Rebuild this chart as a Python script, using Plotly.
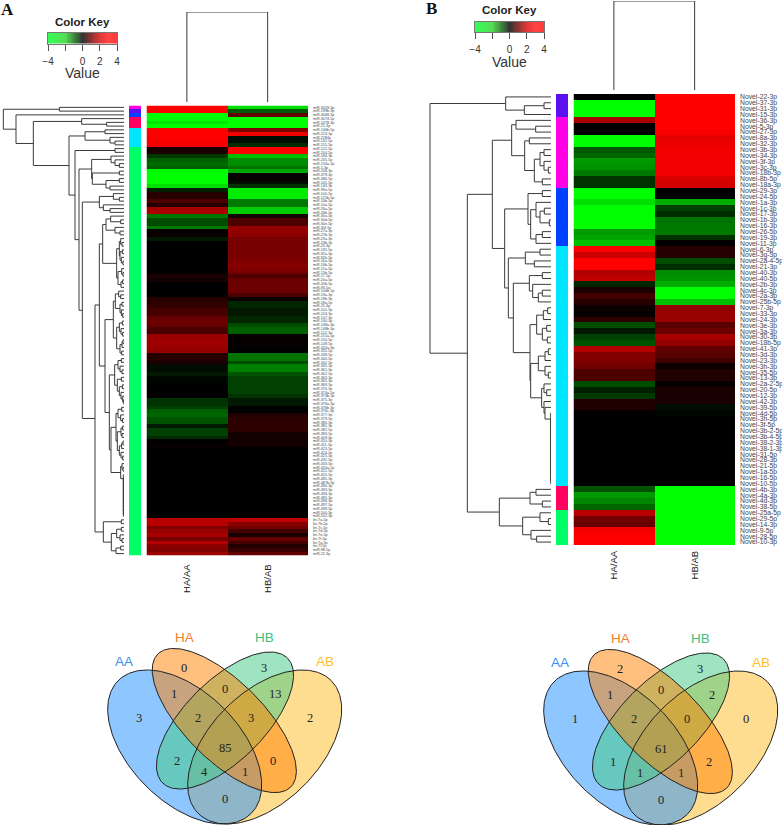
import numpy as np
import plotly.graph_objects as go

W, H = 782, 825
L = 0  # dendrogram leaf

# ---------- Panel A data ----------
A_labels = """miR-3059-3p miR-199b-3p miR-3068-3p miR-3074-5p miR-2478-3p miR-21-3p miR-146b-5p miR-223-3p miR-2284x miR-142-5p
miR-155-5p miR-122-5p miR-204-5p miR-184-3p miR-205-5p miR-133a-3p miR-1-3p miR-206-3p miR-378-3p miR-486-5p
miR-145-5p miR-143-3p miR-99a-5p miR-100-5p miR-125b-5p miR-10b-5p miR-10a-5p miR-26a-5p miR-26b-5p miR-30a-5p
miR-30d-5p miR-30e-5p miR-30f-5p miR-27a-3p miR-27b-3p miR-23a-3p miR-23b-3p miR-24-3p miR-191-5p miR-92a-3p
miR-92b-3p miR-16a-5p miR-16b-5p miR-15a-5p miR-15b-5p miR-17-5p miR-20a-5p miR-20b-5p miR-93-5p miR-106b-5p
miR-19a-3p miR-19b-3p miR-18a-5p miR-25-3p miR-101-3p miR-103-3p miR-107-3p miR-140-3p miR-148a-3p miR-148b-3p
miR-152-3p miR-151a-5p miR-150-5p miR-149-5p miR-320a-3p miR-335-5p miR-339-5p miR-340-5p miR-342-3p miR-345-5p
miR-361-3p miR-362-5p miR-363-3p miR-365-3p miR-369-3p miR-370-3p miR-374a-5p miR-374b-5p miR-375-3p miR-376a-3p
miR-376b-3p miR-376c-3p miR-377-3p miR-379-5p miR-380-3p miR-381-3p miR-382-5p miR-383-5p miR-409-3p miR-410-3p
miR-411-5p miR-423-5p miR-424-5p miR-425-5p miR-432-5p miR-433-3p miR-450a-5p miR-451-5p miR-455-5p miR-485-3p
miR-487b-3p miR-490-3p miR-493-3p miR-494-3p miR-495-3p miR-496-3p miR-497-5p miR-499-5p miR-500-3p miR-502-3p
let-7a-5p let-7b-5p let-7c-5p let-7d-5p let-7e-5p let-7f-5p let-7g-5p let-7i-5p miR-98-5p miR-22-3p""".split()
A_HA = [4,4,-4,-4,-3.6,-4,4,4,4,3.9,
        3.9,0.4,0.4,-0.9,-1.5,-1.7,-1.5,-4,-4,-4,
        -4,-3.5,-0.5,0.6,0.6,1.2,0.6,2.6,2.7,-1.9,
        -1.2,-1.2,-1.9,0.1,0.15,-0.4,0,0,0,0,
        0,0,0,0,0.05,0.4,0.3,0,0,0,
        0.05,0.6,0.7,0.8,1.1,1.1,1.6,1.7,1.6,1.2,
        1.1,2.4,2.5,2.5,2.4,2.3,0.6,0.6,0.4,-0.2,
        -0.2,-0.4,-0.1,-0.1,0,0,0,0,-0.8,-0.8,
        -1.0,-1.5,-1.6,-1.3,-1.3,-0.4,-1.0,-1.0,-0.7,0,
        0.1,0.05,0,0,0,0,0,0,0,0,
        0,0,0,0,0,0,0,0,0,0,
        2.9,2.9,2.0,2.4,2.6,1.9,2.8,2.2,2.0,2.5]
A_HB = [-3.5,-1.4,1.5,-4,-4,-4,2,3.8,-0.2,-0.2,
        -0.7,4,4,-3,-2.2,-2.2,-1.8,-2.6,0.1,0.1,
        -0.2,-0.8,-3.7,-3.7,-3.7,-1.9,-1.9,-3.2,-3.2,0.3,
        1.2,1.2,2.3,2.3,2.2,1.9,1.9,1.9,1.9,1.9,
        1.9,2.0,2.1,2.0,1.8,1.2,1.7,1.7,1.7,1.7,
        1.2,0.2,-0.6,-0.6,-0.4,-0.4,-0.6,-0.6,-1.2,-1.5,
        -1.5,0.1,0.1,0.1,0,0,-1.8,-1.8,-1.2,-2,
        -2,-1.3,-1,-1,-1,-1,-1,-0.8,-0.4,-0.4,
        0.02,0.02,0.5,0.7,0.7,0.7,0.7,0.3,0.3,0.3,
        0.3,0,0,0,0,0,0,0,0,0,
        0,0,0,0,0,0,0,0,0,0,
        3,2.1,1.8,1.0,0.4,1.6,1.1,0.5,0.9,1.5]
A_groups = [0,1,2,3,3,3,4,4,4,4,4] + [5]*109

# ---------- Panel B data ----------
B_labels = ["Novel-22-3p","Novel-37-3p","Novel-31-3p","Novel-15-3p","Novel-36-3p","Novel-5-3p","Novel-27-3p","Novel-8a-3p",
"Novel-32-3p","Novel-3b-3p","Novel-34-3p","Novel-3f-3p","Novel-3c-3p","Novel-18b-3p","Novel-8b-5p","Novel-18a-3p",
"Novel-29-3p","Novel-24-5p","Novel-1a-3p","Novel-1c-3p","Novel-17-3p","Novel-1b-3p","Novel-16-3p","Novel-26-5p",
"Novel-19-3p","Novel-11-3p","Novel-6-3p","Novel-3g-3p","Novel-2a-4-5p","Novel-21-3p","Novel-40-3p","Novel-40-5p",
"Novel-2b-3p","Novel-4c-3p","Novel-2a-3p","Novel-25b-5p","Novel-7-3p","Novel-33-3p","Novel-24-3p","Novel-3e-3p",
"Novel-3a-3p","Novel-30-3p","Novel-18b-5p","Novel-41-3p","Novel-3d-3p","Novel-23-3p","Novel-3h-3p","Novel-35-5p",
"Novel-13-3p","Novel-2a-2-5p","Novel-20-5p","Novel-12-3p","Novel-42-3p","Novel-39-5p","Novel-4d-5p","Novel-3h-5p",
"Novel-3f-5p","Novel-3b-2-5p","Novel-3b-4-5p","Novel-38-2-3p","Novel-38-1-3p","Novel-31-5p","Novel-28-3p","Novel-21-5p",
"Novel-1a-5p","Novel-16-5p","Novel-10-5p","Novel-4b-3p","Novel-4a-3p","Novel-4d-3p","Novel-38-5p","Novel-25a-5p",
"Novel-29-5p","Novel-14-3p","Novel-9-5p","Novel-28-5p","Novel-10-3p"]
B_HA = [0,-4,-4,-4,2.6,0,0,-4,-4,-1.4,-1.6,-2.4,-2.3,-1.9,-0.8,-0.8,
        -4,-4,-3.5,-4,-4,-4,-4,-2.4,-2.6,-3,
        3.9,3.2,4,4,2.8,3.0,-0.6,0.4,1.0,0.6,0.2,0.1,0.7,-1.2,-0.4,-1.0,-1.3,
        2.8,2.0,2.0,1.8,1.2,1.2,-1.2,-0.5,-0.9,0.5,0.5,0.05,
        0,0,0,0,0,0,0,0,0,0,0,0,
        -1.3,-2.4,-2.1,-1.6,2.9,1.8,1.6,3.8,4,4]
B_HB = [4,4,4,4,4,4,3.9,3.6,3.7,3.8,3.8,3.8,3.8,3.8,3.4,3.3,
        0,0,-2.7,-1.0,-0.7,-1.8,-1.9,-1.9,-0.8,0,
        0.6,0.6,-1.2,-0.7,-2.2,-2.3,-2.7,-4,-4,-3,2.3,2.4,2.4,1.4,1.7,2.6,2.3,
        1.5,1.4,1.0,0.2,0.5,0.5,0.1,0.4,0.4,0.4,-0.2,-0.1,
        0,0,0,0,0,0,0,0,0,0,0,0,
        -4,-4,-4,-4,-4,-4,-4,-4,-4,-4]
B_groups = [1]*4 + [0]*12 + [2]*10 + [4]*41 + [3]*4 + [5]*6

columns = ["HA/AA", "HB/AB"]
key_ticks = [-4, -2, 0, 2, 4]
key_text = ["\u22124", "", "0", "2", "4"]
side_colors = ["#FF00E6", "#5B10F0", "#0040FF", "#FF0060", "#00E5FF", "#00FF66"]

# Venn region counts, same order in both panels:
# AA, HA, HB, AB, AA&HA, HA&HB, HB&AB, AA&HB, AA&HA&HB, HA&HB&AB, HA&AB, AA&HB&AB, all, AA&HA&AB, AA&AB
venn_A = [3,0,3,2,1,0,13,2,2,3,0,4,85,1,0]
venn_B = [1,2,3,0,1,0,2,1,2,0,2,1,61,1,0]

# ---------- Dendrograms: (height, left, right), L = leaf ----------
def comb(n, h):
    node = (h, L, L)
    for _ in range(n - 2):
        node = (h, L, node)
    return node

a13 = (97,(39,L,(27,L,(14,L,L))),(95,(14,L,L),(54,(14,L,L),(42,L,L))))
a23 = (74,(32,L,(14,L,L)),(62,L,(42,L,L)))
a35 = (14,(10,L,(6,L,L)),(12,(5,L,L),(8,L,(3,L,L))))
a43 = (18,(7,L,(3,L,L)),(9,(4,L,L),L))
a29 = (64,(54,(40,L,(10,L,L)),(27,L,(12,L,L))),(22,a35,a43))
a49 = (32,(26,(16,L,(10,L,L)),(12,(6,L,L),(8,L,(4,L,L)))),(22,(14,(5,L,L),(9,L,(4,L,L))),(12,(6,(3,L,L),L),(7,L,L))))
a67 = (28,(18,(8,L,L),(12,L,(6,L,L))),(20,(8,L,L),(14,(5,L,L),(9,L,(4,L,(2,L,L))))))
a80 = (24,(18,(7,L,L),(10,L,(5,L,L))),(20,(9,(4,L,L),(6,L,L)),(14,(7,(3,L,L),L),(9,L,(4,L,L)))))
a95 = (10,(6,L,(3,L,L)),comb(12,2))
a110 = (62,(8,L,L),(38,(22,(8,L,L),(12,L,(6,L,L))),(24,(10,L,L),L)))
a_green = (87,(74,a29,(57,a49,(44,a67,(39,a80,a95)))),a110)
tree_A = (362,(194,L,L),(324,L,(272,(127,L,(52,L,L)),(165,(117,(57,L,L),(42,L,(27,L,L))),
          (147,(27,L,L),(135,a13,(125,a23,a_green)))))))

b_purple = (136,L,(80,(21,L,L),L))
b_magenta = (118,(105,L,(46,L,L)),(79,(65,L,L),(50,(33,(21,L,L),(21,L,(8,L,L))),(26,L,L))))
b_blue = (69,(26,L,L),(61,(45,L,(33,(20,L,L),(5,L,L))),(45,(26,L,L),L)))
b36 = (43,(23,(10,L,L),L),(26,(13,L,L),(11,L,L)))
b43 = (38,(18,(8,L,L),L),(18,L,(8,L,L)))
b49 = (28,(21,L,(13,L,L)),(21,L,(18,L,comb(13,1))))
b_cyan = (128,(77,(33,L,L),(50,L,L)),(113,(65,(26,L,L),(55,L,(38,(26,L,L),L))),(63,b36,(61,b43,b49))))
b_bottom = (155,(63,(45,L,L),(26,L,L)),(85,(33,L,(8,L,L)),(60,L,(43,L,L))))
tree_B = (363,b_purple,(251,(176,b_magenta,(139,b_blue,b_cyan)),b_bottom))

def dendro(tree):
    xs, ys = [], []
    leaf = [0]
    def walk(n):
        if n == L:
            leaf[0] += 1
            return leaf[0] - 1, 0
        h, a, b = n
        ya, ha = walk(a)
        yb, hb = walk(b)
        xs.extend([ha, h, h, hb, None])
        ys.extend([ya, ya, yb, yb, None])
        return (ya + yb) / 2, h
    walk(tree)
    return xs, ys

# ---------- Layout helpers (pixels -> paper) ----------
def dx(a, b): return [a / W, b / W]
def dy(t, b): return [1 - b / H, 1 - t / H]

RED_GREEN = [[0, "#00FF00"], [0.5, "#000000"], [1, "#FF0000"]]
KEY_SCALE = [[0, "#33FF55"], [0.25, "#55DD55"], [0.4, "#3A7A3A"], [0.5, "#333333"],
             [0.62, "#8A3333"], [0.75, "#E03838"], [0.87, "#FF4444"], [1, "#FF3A3A"]]
n_side = len(side_colors)
SIDE_SCALE = []
for i, c in enumerate(side_colors):
    SIDE_SCALE += [[i / n_side, c], [(i + 1) / n_side, c]]
FONT = "Liberation Sans"
SERIF = "Liberation Serif"
LINE = "#3a3a3a"

fig = go.Figure()
hidden = dict(visible=False, showgrid=False, zeroline=False, automargin=False)

def nm(a): return a.replace("x", "xaxis").replace("y", "yaxis")

def panel(xs, ys, labels, ha, hb, groups, tree, tree_max, px, label_size, label_color):
    n = len(labels)
    hm, side, den = xs
    yh, yt = ys
    z = [[a, b] for a, b in zip(ha, hb)]
    fig.add_trace(go.Heatmap(z=z, x=[0, 1], y=list(range(n)), colorscale=RED_GREEN, zmin=-4, zmax=4, showscale=False,
                             xaxis=hm, yaxis=yh, hoverinfo="skip"))
    fig.add_trace(go.Heatmap(z=[[g] for g in groups], x=[0], y=list(range(n)), zmin=0, zmax=n_side,
                             colorscale=SIDE_SCALE, showscale=False, xaxis=side, yaxis=yh, hoverinfo="skip"))
    x_d, y_d = dendro(tree)
    fig.add_trace(go.Scatter(x=x_d, y=y_d, mode="lines", line=dict(color=LINE, width=1),
                             xaxis=den, yaxis=yh, hoverinfo="skip", showlegend=False))
    fig.add_trace(go.Scatter(x=[0, 0, 1, 1], y=[0, 1, 1, 0], mode="lines", line=dict(color=LINE, width=1),
                             xaxis=hm, yaxis=yt, hoverinfo="skip", showlegend=False))
    lay = {}
    lay[nm(hm)] = dict(domain=dx(*px["hm"]), range=[-0.5, 1.5], anchor=yh, tickmode="array", tickvals=[0, 1],
                       ticktext=columns, tickangle=-90, ticks="", showgrid=False, zeroline=False, showline=False,
                       automargin=False,
                       tickfont=dict(family=FONT, size=9.5, color="#222"), ticklabelstandoff=px["xstand"])
    lay[nm(side)] = dict(domain=dx(*px["side"]), range=[-0.5, 0.5], anchor=yh, **hidden)
    lay[nm(den)] = dict(domain=dx(*px["den"]), range=[tree_max, 0], anchor=yh, **hidden)
    lay[nm(yh)] = dict(domain=dy(*px["rows"]), range=[n - 0.5, -0.5], anchor=hm, side="right", tickmode="array",
                       tickvals=list(range(n)), ticktext=labels, ticks="", showgrid=False, zeroline=False,
                       showline=False, ticklabeloverflow="allow", ticklabelstandoff=4, automargin=False,
                       tickfont=dict(family=FONT, size=label_size, color=label_color))
    lay[nm(yt)] = dict(domain=dy(*px["top"]), range=[0, 1], anchor=hm, **hidden)
    fig.update_layout(**lay)

panel(("x2", "x3", "x4"), ("y2", "y3"), A_labels, A_HA, A_HB, A_groups, tree_A, 372,
      dict(hm=(146.5, 308), side=(129, 141), den=(0, 124), rows=(105.5, 555.5), top=(12, 102), xstand=6),
      3.7, "#444")
panel(("x5", "x6", "x7"), ("y4", "y5"), B_labels, B_HA, B_HB, B_groups, tree_B, 393,
      dict(hm=(573.5, 735), side=(556, 568), den=(420, 551), rows=(94, 545), top=(1, 90), xstand=3),
      6.8, "#444")

# ---------- Colour keys ----------
key_values = np.linspace(-4, 4, 81)
def color_key(xa, ya, x0, y0):
    fig.add_trace(go.Heatmap(z=[list(key_values)], x=list(key_values), y=[0], colorscale=KEY_SCALE, zmin=-4, zmax=4,
                             showscale=False, xaxis=xa, yaxis=ya, hoverinfo="skip"))
    fig.update_layout(**{
        nm(xa): dict(domain=dx(x0, x0 + 69), range=[-4, 4], anchor=ya, tickmode="array", tickvals=key_ticks,
                     ticktext=key_text, ticks="outside", ticklen=6, tickcolor="#555", tickwidth=1, showgrid=False,
                     zeroline=False, showline=True, linecolor="#777", mirror=True, ticklabelstandoff=2,
                     automargin=False, tickfont=dict(family=FONT, size=10, color="#333")),
        nm(ya): dict(domain=dy(y0, y0 + 10.5), range=[-0.5, 0.5], anchor=xa, showticklabels=False, ticks="",
                     automargin=False, showgrid=False, zeroline=False, showline=True, linecolor="#777", mirror=True),
    })
color_key("x8", "y8", 48, 33)
color_key("x9", "y9", 475, 21.5)

# ---------- Venn diagrams on a pixel-scaled overlay ----------
ELLIPSES = [  # draw order: set, centre offset from venn centre, semi axes, angle, colour
    ("AB", 39.7, 26.5, 94, 55, -45, (255, 187, 33), "#FFC030"),
    ("AA", -40.3, 26.5, 94, 55, 45, (30, 144, 255), "#3A8FEF"),
    ("HB", 0, 0, 88.3, 40, -45, (63, 201, 129), "#40C080"),
    ("HA", -0.7, 0, 94, 39.4, 45, (255, 127, 0), "#F08030"),
]
COUNT_POS = [(-85.7, -3), (-40.7, -53), (39.3, -53), (85, -3), (-51, -27), (0, -32), (50.7, -27), (-48.3, 40),
             (-27, -3), (26.3, -3), (47.7, 40), (-20.7, 51), (0, 27), (19.7, 51), (0, 78)]
SET_POS = {"AA": (-101, -59), "HA": (-40.3, -83), "HB": (39.7, -83), "AB": (100.3, -59)}
annos = []

def venn(cx, cy, counts):
    t = np.linspace(0, 2 * np.pi, 240)
    outlines = []
    for name, ox, oy, a, b, ang, rgb, txt in ELLIPSES:
        th = np.deg2rad(ang)
        ex = cx + ox + a * np.cos(t) * np.cos(th) - b * np.sin(t) * np.sin(th)
        ey = cy + oy + a * np.cos(t) * np.sin(th) + b * np.sin(t) * np.cos(th)
        fig.add_trace(go.Scatter(x=ex, y=ey, mode="none", fill="toself", fillcolor="rgba(%d,%d,%d,0.5)" % rgb,
                                 xaxis="x", yaxis="y", hoverinfo="skip", showlegend=False))
        outlines.append((ex, ey))
        sx, sy = SET_POS[name]
        annos.append(dict(x=cx + sx, y=cy + sy, text=name, showarrow=False, xref="x", yref="y",
                          font=dict(family=FONT, size=13.5, color=txt)))
    for ex, ey in outlines:
        fig.add_trace(go.Scatter(x=ex, y=ey, mode="lines", line=dict(color="#222", width=1),
                                 xaxis="x", yaxis="y", hoverinfo="skip", showlegend=False))
    for (px_, py_), v in zip(COUNT_POS, counts):
        annos.append(dict(x=cx + px_, y=cy + py_, text=str(v), showarrow=False, xref="x", yref="y",
                          font=dict(family=SERIF, size=12.5, color="#222")))

venn(225, 720.5, venn_A)
venn(661, 721.5, venn_B)

for txt, x, y, f, s in [("A", 7, 9, SERIF, 17), ("B", 431, 8, SERIF, 17)]:
    annos.append(dict(x=x, y=y, text="<b>%s</b>" % txt, showarrow=False, xref="x", yref="y",
                      font=dict(family=f, size=s, color="#111")))
for x, y in [(82.5, 21.5), (509, 9.5)]:
    annos.append(dict(x=x, y=y, text="<b>Color Key</b>", showarrow=False, xref="x", yref="y",
                      font=dict(family=FONT, size=11.5, color="#222")))
for x, y in [(82.5, 73), (509.5, 61.5)]:
    annos.append(dict(x=x, y=y, text="Value", showarrow=False, xref="x", yref="y",
                      font=dict(family=FONT, size=14, color="#333")))

fig.update_layout(
    width=W, height=H, margin=dict(l=0, r=0, t=0, b=0, autoexpand=False), paper_bgcolor="white",
    plot_bgcolor="rgba(0,0,0,0)", showlegend=False, annotations=annos,
    xaxis=dict(domain=[0, 1], range=[0, W], anchor="y", **hidden),
    yaxis=dict(domain=[0, 1], range=[H, 0], anchor="x", **hidden),
)
fig.write_html("out.html", config={"displayModeBar": False},
               post_script="document.body.style.margin='0';document.documentElement.style.overflow='hidden';")
